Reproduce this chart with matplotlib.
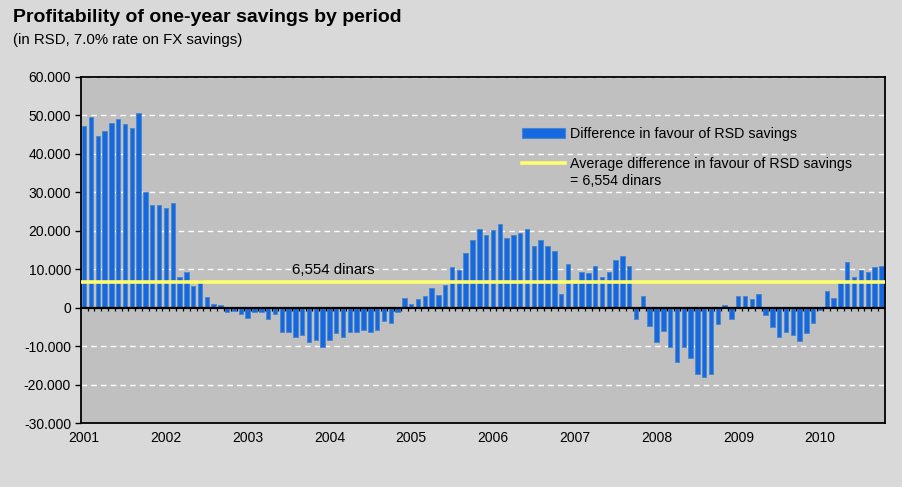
import numpy as np
import matplotlib
matplotlib.use("Agg")
import matplotlib.pyplot as plt
from matplotlib.patches import Patch
from matplotlib.lines import Line2D

plt.rcParams['font.family'] = ['Liberation Sans', 'DejaVu Sans']

# monthly difference in favour of RSD savings (RSD), Jan 2001 - Oct 2010
diff_2001 = [47200, 49700, 44700, 46000, 48000, 49200, 47700, 46800, 50600, 30100, 26800, 26800]
diff_2002 = [26000, 27200, 8100, 9300, 5600, 7100, 2700, 1000, 600, -1200, -900, -1700]
diff_2003 = [-2600, -1200, -1200, -3000, -1600, -6300, -6300, -7700, -7200, -9000, -8500, -10100]
diff_2004 = [-8500, -6700, -7700, -6300, -6400, -5700, -6200, -5700, -3500, -4000, -1000, 2600]
diff_2005 = [950, 2200, 3000, 5100, 3400, 5900, 10500, 9700, 14300, 17600, 20400, 18900]
diff_2006 = [20100, 21800, 18000, 18900, 19300, 20500, 16000, 17600, 16000, 14700, 3500, 11400]
diff_2007 = [6500, 9400, 8900, 10900, 8100, 9300, 12300, 13400, 10900, -2900, 3100, -4800]
diff_2008 = [-8800, -6100, -10200, -14100, -10200, -13200, -17200, -18100, -17200, -4300, 700, -3000]
diff_2009 = [3100, 3100, 2300, 3600, -1800, -4900, -7500, -6200, -7000, -8700, -6600, -4000]
diff_2010 = [-500, 4400, 2600, 6300, 11800, 8000, 9700, 9300, 10500, 10900]

years = [2001, 2002, 2003, 2004, 2005, 2006, 2007, 2008, 2009, 2010]
avg_diff = 6554

values = np.array(diff_2001 + diff_2002 + diff_2003 + diff_2004 + diff_2005
                  + diff_2006 + diff_2007 + diff_2008 + diff_2009 + diff_2010)
x = np.arange(len(values))

bar_col = '#1469E0'
bar_edge = '#4C86C8'
avg_col = '#FFFF70'

fig = plt.figure(figsize=(9.03, 4.87), dpi=100, facecolor='#D9D9D9')
ax = fig.add_axes([0.0894, 0.1314, 0.8904, 0.7105])
ax.set_facecolor('#C0C0C0')

ax.bar(x, values, width=0.65, color=bar_col, edgecolor=bar_edge, linewidth=0.6, zorder=2)
ax.axhline(avg_diff, color=avg_col, lw=2.6, zorder=4)
ax.axhline(0, color='black', lw=1.6, zorder=3)
# small tick marks on the zero line between months
ax.vlines(x[:-1] + 0.5, -900, 0, color='black', lw=0.9, zorder=3)

ax.set_xlim(-0.5, len(values) - 0.5)
ax.set_ylim(-30000, 60000)
yt = np.arange(-30000, 60001, 10000)
ax.set_yticks(yt)
ax.set_yticklabels([f"{v:,.0f}".replace(',', '.') for v in yt], fontsize=10)
ax.set_xticks([12 * i for i in range(len(years))])
ax.set_xticklabels([str(y) for y in years], fontsize=10)
ax.tick_params(axis='x', length=0, pad=6)
ax.tick_params(axis='y', length=4, width=1, direction='out', pad=3)
ax.yaxis.grid(True, color='white', ls=(0, (4, 3)), lw=1)
ax.set_axisbelow(True)
for s in ax.spines.values():
    s.set_color('black')
    s.set_linewidth(1.3)

ax.annotate(f"{avg_diff:,} dinars", xy=(36.5, avg_diff), xytext=(0, 4),
            textcoords='offset points', ha='center', va='bottom', fontsize=10.8, zorder=5)

handles = [Patch(facecolor=bar_col, edgecolor=bar_edge, lw=0.8),
           Line2D([0], [0], color=avg_col, lw=2.6)]
labels = ["Difference in favour of RSD savings",
          "Average difference in favour of RSD savings"]
leg = ax.legend(handles, labels, loc='upper left', bbox_to_anchor=(0.549, 0.856),
                frameon=False, fontsize=10.3, handlelength=3.0, handletextpad=0.35,
                borderpad=0, borderaxespad=0, labelspacing=1.15)
leg.set_zorder(5)
# second line of the average entry, hung under the legend text
ax.annotate(f"= {avg_diff:,} dinars", xy=(0, 0), xycoords=leg.get_texts()[1],
            xytext=(0, -2), textcoords='offset points', ha='left', va='top',
            fontsize=10.3, zorder=7)

fig.text(0.014, 0.964, "Profitability of one-year savings by period",
         fontsize=14, fontweight='bold', va='center', ha='left')
fig.text(0.014, 0.917, "(in RSD, 7.0% rate on FX savings)",
         fontsize=10.8, va='center', ha='left')

fig.canvas.draw()
fig.savefig('out.png', dpi=100, facecolor=fig.get_facecolor())
